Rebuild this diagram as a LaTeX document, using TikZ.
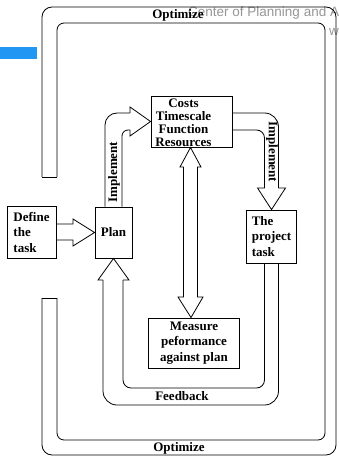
\documentclass[tikz,border=0pt]{standalone}
\usepackage{fontspec}
\setmainfont{Liberation Serif}
\setsansfont{Liberation Sans}
\usetikzlibrary{calc}

\definecolor{barblue}{RGB}{33,150,243}
\definecolor{markgray}{RGB}{150,150,150}

\tikzset{
    box/.style={draw, line width=0.9pt, inner sep=0pt, font=\bfseries\fontsize{13}{15.5}\selectfont},
    lbl/.style={font=\bfseries\fontsize{13}{15}\selectfont, inner sep=0pt},
    band/.style={line width=0.8pt}
}

\begin{document}
\begin{tikzpicture}[x=1pt, y=-1pt]
            \useasboundingbox (0,0) rectangle (339,457);

            % watermark and bar
            \node[font=\sffamily\fontsize{13.5}{16}\selectfont, text=markgray, anchor=base west, inner sep=0pt] (mark) at (188,17) {Center of Planning and A};
            \node[font=\sffamily\fontsize{13.5}{16}\selectfont, text=markgray, anchor=base west, inner sep=0pt] (markw) at (329,36) {w};
            \fill[barblue] (0,47) rectangle (37,59);

            % boxes
            \node[box, minimum width=49pt, minimum height=52pt, align=left] (define) at (31.5,232) {Define\\the\\task};
            \node[box, minimum width=37pt, minimum height=51pt] (plan) at (113.5,232.5) {Plan};
            \node[box, minimum width=81pt, minimum height=51pt] (costs) at (191.5,121.5) {};
            \node[lbl, font=\bfseries\fontsize{13}{13}\selectfont, align=center] (coststext) at (183.5,122.5) {Costs\\Timescale\\Function\\Resources};
            \node[box, minimum width=50pt, minimum height=53pt, align=left] (task) at (271.5,236.5) {The\\project\\task};
            \node[box, minimum width=91pt, minimum height=50pt, align=center] (measure) at (194,343) {Measure\\peformance\\against plan};

            % optimize loop
            \draw[band, rounded corners=10pt] (42,177) -- (42,7) -- (336,7) -- (336,455) -- (42,455) -- (42,298);
            \draw[band, rounded corners=7pt] (57,177) -- (57,23) -- (325,23) -- (325,440) -- (57,440) -- (57,298);
            \draw[band] (42,177) -- (57,177) (42,298) -- (57,298);
            \node[lbl] (opttop) at (178,15) {Optimize};
            \node[lbl] (optbot) at (179,448) {Optimize};

            % define -> plan
            \draw[band] ($(define.east)+(0,-8)$) -- (73,224) -- (73,219) -- (plan.west) -- (73,246) -- (73,240) -- ($(define.east)+(0,8)$);

            % implement: plan -> costs
            \draw[band, rounded corners=12pt] ($(plan.north)+(-8.5,0)$) |- (130,113);
            \draw[band, rounded corners=6pt] ($(plan.north)+(8.5,0)$) |- (130,130);
            \draw[band] (130,113) -- (130,107) -- (costs.west) -- (130,136) -- (130,130);
            \node[lbl, rotate=90] (impl) at (114,172) {Implement};

            % implement: costs -> task
            \draw[band, rounded corners=14pt] ($(costs.east)+(0,-8.5)$) -| (278.5,188);
            \draw[band, rounded corners=8pt] ($(costs.east)+(0,8.5)$) -| (264.5,188);
            \draw[band] (264.5,188) -- (257.5,188) -- (task.north) -- (285.5,188) -- (278.5,188);
            \node[lbl, rotate=-90] (impr) at (272,152) {Implement};

            % costs <-> measure
            \draw[band] ($(costs.south)+(-1,0)$) -- (201,167) -- (197.5,167) -- (197.5,297) -- (203,297)
                -- ($(measure.north)+(-3,0)$) -- (178,297) -- (183.5,297) -- (183.5,167) -- (180,167) -- cycle;

            % feedback: task -> plan
            \draw[band, rounded corners=14pt] ($(task.south)+(7,0)$) |- (103,405) -- (103,280);
            \draw[band, rounded corners=8pt] ($(task.south)+(-7,0)$) |- (123,388) -- (123,280);
            \draw[band] (103,280) -- (98,280) -- (plan.south) -- (129,280) -- (123,280);
            \node[lbl] (feed) at (182,396) {Feedback};
        \end{tikzpicture}
\end{document}
